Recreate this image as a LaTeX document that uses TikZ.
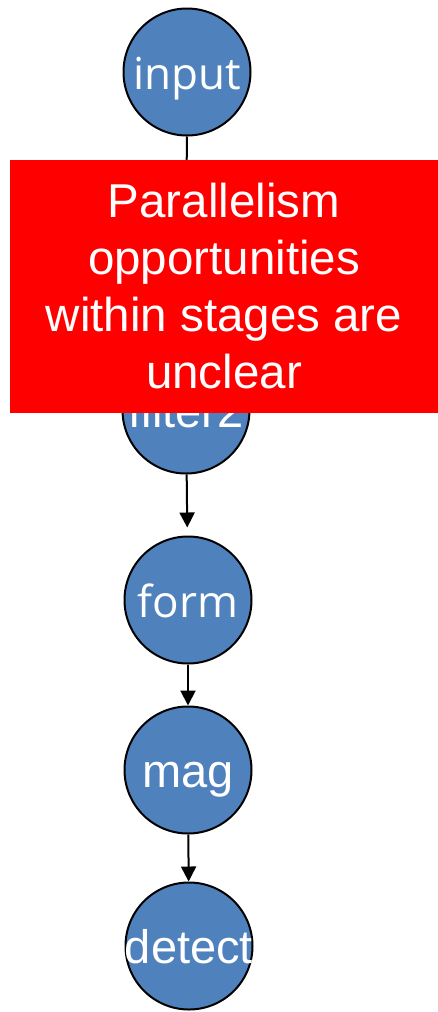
\documentclass[tikz,border=0pt]{standalone}
\usepackage{fontspec}
\usetikzlibrary{arrows.meta}
\newfontfamily\arialface{Liberation Sans}
\newfontfamily\segface{Open Sans}
\definecolor{stageblue}{RGB}{79,129,189}
\begin{document}
\begin{tikzpicture}[x=1pt,y=-1pt,
  stage/.style={circle,draw=black,line width=2pt,fill=stageblue,minimum size=127pt,inner sep=0pt},
  stagetext/.style={text=white,inner sep=0pt,text height=35pt,text depth=0pt},
  flow/.style={line width=2pt,-{Triangle[length=15pt,width=15pt]}},
  notebox/.style={fill=red,text=white,inner sep=0pt,minimum width=428pt,minimum height=253pt,
    align=center,font=\arialface\fontsize{47.5}{57}\selectfont}]
\useasboundingbox (0,0) rectangle (438,1012);

% pipeline stages
\node[stage] (input) at (187,72) {};
\node[stage] (filter2) at (186,410) {};
\node[stage] (form) at (188,600) {};
\node[stage] (mag) at (188,770) {};
\node[stage] (detect) at (189,946) {};

\node[stagetext,font=\segface\fontsize{44}{50}\selectfont] (inputlbl) at (input) {input};
\node[stagetext,font=\arialface\fontsize{47}{50}\selectfont] (filter2lbl) at (filter2) {filter2};
\node[stagetext,font=\segface\fontsize{44}{50}\selectfont] (formlbl) at (form) {form};
\node[stagetext,font=\arialface\fontsize{47}{50}\selectfont] (maglbl) at (mag) {mag};
\node[stagetext,font=\arialface\fontsize{47}{50}\selectfont] (detectlbl) at (detect) {detect};

% connections between stages
\draw[flow] (input) -- (filter2);
\draw[flow,shorten >=8pt] (filter2) -- (form);
\draw[flow] (form) -- (mag);
\draw[flow] (mag) -- (detect);

% overlay note
\node[notebox] (note) at (224,286.5) {Parallelism\\opportunities\\within stages are\\unclear};
\end{tikzpicture}
\end{document}
